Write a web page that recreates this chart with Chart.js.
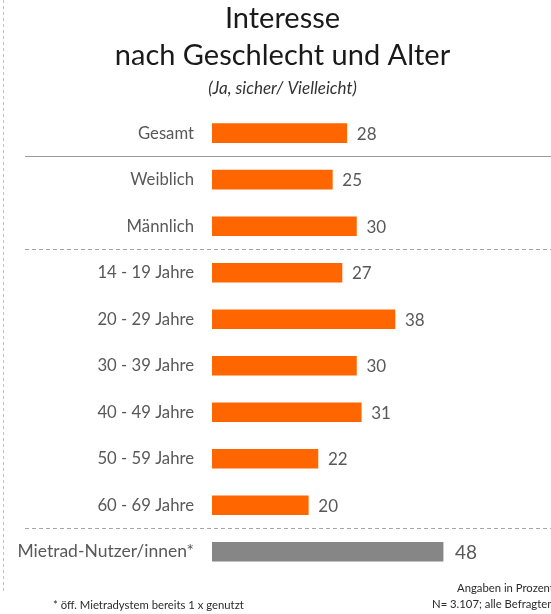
<!DOCTYPE html>
<html>
<head>
<meta charset="utf-8">
<script src="https://cdn.jsdelivr.net/npm/chart.js@4/dist/chart.umd.min.js"></script>
<style>
  html, body { margin: 0; padding: 0; background: #fff; }
  #wrap { width: 551px; height: 614px; }
</style>
</head>
<body>
<div id="wrap"><canvas id="interesseChart" width="551" height="614"></canvas></div>
<script>
// Daten
const kategorien = ['Gesamt', 'Weiblich', 'Männlich', '14 - 19 Jahre', '20 - 29 Jahre',
    '30 - 39 Jahre', '40 - 49 Jahre', '50 - 59 Jahre', '60 - 69 Jahre', 'Mietrad-Nutzer/innen*'];
const werte = [28, 25, 30, 27, 38, 30, 31, 22, 20, 48];
const farben = ['#ff6600', '#ff6600', '#ff6600', '#ff6600', '#ff6600',
    '#ff6600', '#ff6600', '#ff6600', '#ff6600', '#868686'];
// Trennlinien nach diesen Indizes: solid / gestrichelt
const trennSolid = [0];
const trennDash = [2, 8];

const FONT = 'Lato, "Open Sans", sans-serif';

// Trennlinien, Wertbeschriftung, Fußnoten
const extras = {
    id: 'extras',
    beforeDraw(chart) {
        const ctx = chart.ctx;
        ctx.save();
        // gestrichelte Linie links
        ctx.strokeStyle = '#c4c4c4';
        ctx.lineWidth = 1;
        ctx.setLineDash([3, 3]);
        ctx.beginPath();
        ctx.moveTo(3.5, 0);
        ctx.lineTo(3.5, 592);
        ctx.stroke();

        const y = chart.scales.y;
        const linie = (i, dash) => {
            const yy = Math.round((y.getPixelForValue(i) + y.getPixelForValue(i + 1)) / 2) + 0.5;
            ctx.setLineDash(dash);
            ctx.strokeStyle = dash.length ? '#a6a6a6' : '#9a9a9a';
            ctx.beginPath();
            ctx.moveTo(25, yy);
            ctx.lineTo(chart.width, yy);
            ctx.stroke();
        };
        trennSolid.forEach(i => linie(i, []));
        trennDash.forEach(i => linie(i, [4, 3]));
        ctx.restore();
    },
    afterDatasetsDraw(chart) {
        const ctx = chart.ctx;
        const meta = chart.getDatasetMeta(0);
        ctx.save();
        ctx.fillStyle = '#595959';
        ctx.textBaseline = 'middle';
        ctx.textAlign = 'left';
        meta.data.forEach((bar, i) => {
            const last = i === meta.data.length - 1;
            ctx.font = (last ? '19px ' : '17px ') + FONT;
            ctx.fillText(werte[i], bar.x + (last ? 12 : 10), bar.y + 1);
        });

        ctx.fillStyle = '#2b2b2b';
        ctx.font = '11.3px ' + FONT;
        ctx.textBaseline = 'middle';
        ctx.fillText('* öff. Mietradystem bereits 1 x genutzt', 53, 605);
        ctx.fillText('Angaben in Prozent', 457, 588);
        ctx.fillText('N= 3.107; alle Befragten', 432, 604);
        ctx.restore();
    }
};

document.addEventListener('DOMContentLoaded', function() {
    const ctx = document.getElementById('interesseChart').getContext('2d');
    new Chart(ctx, {
        type: 'bar',
        data: {
            labels: kategorien,
            datasets: [{
                data: werte,
                backgroundColor: farben,
                borderWidth: 0,
                barThickness: 19
            }]
        },
        options: {
            indexAxis: 'y',
            responsive: false,
            animation: false,
            layout: { padding: { left: 16, right: 2, top: 0, bottom: 39 } },
            plugins: {
                legend: { display: false },
                tooltip: { enabled: false },
                title: {
                    display: true,
                    text: ['Interesse', 'nach Geschlecht und Alter'],
                    color: '#1a1a1a',
                    font: { family: FONT, size: 29, weight: 'normal', lineHeight: 1.28 },
                    padding: { top: 0, bottom: 4.6 }
                },
                subtitle: {
                    display: true,
                    text: '(Ja, sicher/ Vielleicht)',
                    color: '#333',
                    font: { family: FONT, size: 17, style: 'italic', lineHeight: 1.1 },
                    padding: { top: 0, bottom: 12.4 }
                }
            },
            scales: {
                x: {
                    display: false,
                    min: 0,
                    max: 70
                },
                y: {
                    afterFit(scale) { scale.width = 196; },
                    grid: { display: false, drawTicks: false },
                    border: { display: false },
                    ticks: {
                        padding: 18,
                        color: '#595959',
                        font: c => ({ family: FONT, size: c.index === 9 ? 17.5 : 16.7 })
                    }
                }
            }
        },
        plugins: [extras]
    });
});
</script>
</body>
</html>
